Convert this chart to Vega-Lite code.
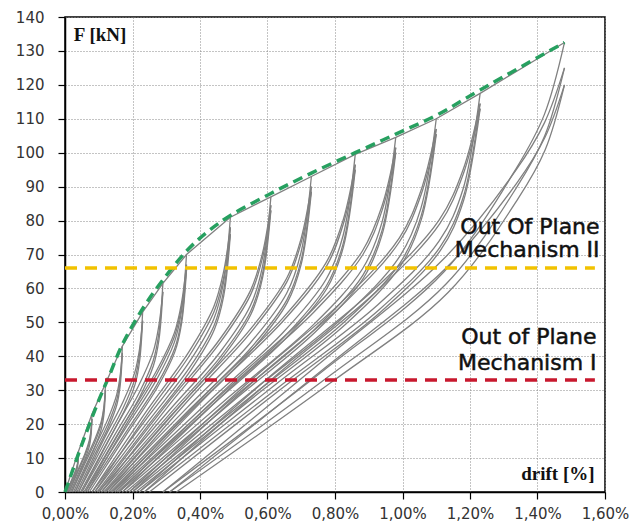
{
"$schema":"https://vega.github.io/schema/vega-lite/v6.json",
"width":540,"height":475,"autosize":"none",
"padding":{"left":65,"top":17,"right":28,"bottom":35},
"background":"white",
"config":{"view":{"stroke":"black","strokeWidth":1.5},
"axis":{"domainColor":"black","domainWidth":1.5,"tickColor":"black","tickSize":7,"tickWidth":1.2,"labelFont":"DejaVu Sans","labelFontSize":15,"labelColor":"#333","labelOverlap":false,"labelFlush":false,"labelBound":false,"grid":true,"gridDash":[1,2],"gridColor":"#888","gridWidth":1},
"axisY":{"labelOverlap":false}},
"datasets":{
"loops":[
{"c":1,"x":0.005,"y":0},{"c":1,"x":0.019,"y":3.2},{"c":1,"x":0.0295,"y":5.6},{"c":1,"x":0.0358,"y":7.6},{"c":1,"x":0.0383,"y":9.1},{"c":1,"x":0.04,"y":12},
{"c":2,"x":0.005,"y":0},{"c":2,"x":0.019,"y":3.4},{"c":2,"x":0.0295,"y":5.8},{"c":2,"x":0.0358,"y":7.7},{"c":2,"x":0.0383,"y":9.1},{"c":2,"x":0.04,"y":11},
{"c":3,"x":0.008,"y":0},{"c":3,"x":0.0208,"y":3},{"c":3,"x":0.0304,"y":5.2},{"c":3,"x":0.0362,"y":6.9},{"c":3,"x":0.0384,"y":8.4},{"c":3,"x":0.04,"y":11},
{"c":4,"x":0.012,"y":0},{"c":4,"x":0.0392,"y":6.2},{"c":4,"x":0.0596,"y":10.8},{"c":4,"x":0.0718,"y":14.5},{"c":4,"x":0.0766,"y":17.5},{"c":4,"x":0.08,"y":23},
{"c":5,"x":0.012,"y":0},{"c":5,"x":0.0392,"y":6.7},{"c":5,"x":0.0596,"y":11.4},{"c":5,"x":0.0718,"y":15.1},{"c":5,"x":0.0766,"y":17.8},{"c":5,"x":0.08,"y":21.5},
{"c":6,"x":0.016,"y":0},{"c":6,"x":0.0416,"y":5.8},{"c":6,"x":0.0608,"y":10.1},{"c":6,"x":0.0723,"y":13.5},{"c":6,"x":0.0768,"y":16.3},{"c":6,"x":0.08,"y":21.5},
{"c":7,"x":0.02,"y":0},{"c":7,"x":0.06,"y":8.6},{"c":7,"x":0.09,"y":15},{"c":7,"x":0.108,"y":20.2},{"c":7,"x":0.115,"y":24.3},{"c":7,"x":0.12,"y":32},
{"c":8,"x":0.02,"y":0},{"c":8,"x":0.06,"y":9.3},{"c":8,"x":0.09,"y":15.9},{"c":8,"x":0.108,"y":21},{"c":8,"x":0.115,"y":24.9},{"c":8,"x":0.12,"y":30},
{"c":9,"x":0.025,"y":0},{"c":9,"x":0.063,"y":8.1},{"c":9,"x":0.0915,"y":14.1},{"c":9,"x":0.1086,"y":18.9},{"c":9,"x":0.1153,"y":22.8},{"c":9,"x":0.12,"y":30},
{"c":10,"x":0.03,"y":0},{"c":10,"x":0.086,"y":11.6},{"c":10,"x":0.128,"y":20.2},{"c":10,"x":0.1532,"y":27.1},{"c":10,"x":0.163,"y":32.7},{"c":10,"x":0.17,"y":43},
{"c":11,"x":0.03,"y":0},{"c":11,"x":0.086,"y":12.7},{"c":11,"x":0.128,"y":21.7},{"c":11,"x":0.1532,"y":28.7},{"c":11,"x":0.163,"y":34},{"c":11,"x":0.17,"y":41},
{"c":12,"x":0.035,"y":0},{"c":12,"x":0.089,"y":11.1},{"c":12,"x":0.1295,"y":19.3},{"c":12,"x":0.1538,"y":25.8},{"c":12,"x":0.1633,"y":31.2},{"c":12,"x":0.17,"y":41},
{"c":13,"x":0.04,"y":0},{"c":13,"x":0.116,"y":14.3},{"c":13,"x":0.173,"y":24.9},{"c":13,"x":0.2072,"y":33.4},{"c":13,"x":0.2205,"y":40.3},{"c":13,"x":0.23,"y":53},
{"c":14,"x":0.04,"y":0},{"c":14,"x":0.116,"y":15.7},{"c":14,"x":0.173,"y":26.8},{"c":14,"x":0.2072,"y":35.4},{"c":14,"x":0.2205,"y":41.9},{"c":14,"x":0.23,"y":50.5},
{"c":15,"x":0.046,"y":0},{"c":15,"x":0.1196,"y":13.6},{"c":15,"x":0.1748,"y":23.7},{"c":15,"x":0.2079,"y":31.8},{"c":15,"x":0.2208,"y":38.4},{"c":15,"x":0.23,"y":50.5},
{"c":16,"x":0.05,"y":0},{"c":16,"x":0.146,"y":16.6},{"c":16,"x":0.218,"y":28.9},{"c":16,"x":0.2612,"y":38.7},{"c":16,"x":0.278,"y":46.7},{"c":16,"x":0.29,"y":61.5},
{"c":17,"x":0.05,"y":0},{"c":17,"x":0.146,"y":18.3},{"c":17,"x":0.218,"y":31.3},{"c":17,"x":0.2612,"y":41.3},{"c":17,"x":0.278,"y":49},{"c":17,"x":0.29,"y":59},
{"c":18,"x":0.056,"y":0},{"c":18,"x":0.1496,"y":15.9},{"c":18,"x":0.2198,"y":27.7},{"c":18,"x":0.2619,"y":37.2},{"c":18,"x":0.2783,"y":44.8},{"c":18,"x":0.29,"y":59},
{"c":19,"x":0.06,"y":0},{"c":19,"x":0.18,"y":18.9},{"c":19,"x":0.27,"y":32.9},{"c":19,"x":0.324,"y":44.1},{"c":19,"x":0.345,"y":53.2},{"c":19,"x":0.36,"y":70},
{"c":20,"x":0.06,"y":0},{"c":20,"x":0.18,"y":20.8},{"c":20,"x":0.27,"y":35.5},{"c":20,"x":0.324,"y":46.9},{"c":20,"x":0.345,"y":55.6},{"c":20,"x":0.36,"y":67},
{"c":21,"x":0.066,"y":0},{"c":21,"x":0.1836,"y":18.1},{"c":21,"x":0.2718,"y":31.5},{"c":21,"x":0.3247,"y":42.2},{"c":21,"x":0.3453,"y":50.9},{"c":21,"x":0.36,"y":67},
{"c":22,"x":0.066,"y":0},{"c":22,"x":0.1836,"y":20.3},{"c":22,"x":0.2718,"y":34.7},{"c":22,"x":0.3247,"y":45.9},{"c":22,"x":0.3453,"y":54.4},{"c":22,"x":0.36,"y":65.5},
{"c":23,"x":0.072,"y":0},{"c":23,"x":0.1872,"y":17.7},{"c":23,"x":0.2736,"y":30.8},{"c":23,"x":0.3254,"y":41.3},{"c":23,"x":0.3456,"y":49.8},{"c":23,"x":0.36,"y":65.5},
{"c":24,"x":0.08,"y":0},{"c":24,"x":0.244,"y":21.9},{"c":24,"x":0.367,"y":38.1},{"c":24,"x":0.4408,"y":51},{"c":24,"x":0.4695,"y":61.6},{"c":24,"x":0.49,"y":81},
{"c":25,"x":0.08,"y":0},{"c":25,"x":0.244,"y":24.2},{"c":25,"x":0.367,"y":41.3},{"c":25,"x":0.4408,"y":54.6},{"c":25,"x":0.4695,"y":64.7},{"c":25,"x":0.49,"y":78},
{"c":26,"x":0.088,"y":0},{"c":26,"x":0.2488,"y":21.1},{"c":26,"x":0.3694,"y":36.7},{"c":26,"x":0.4418,"y":49.1},{"c":26,"x":0.4699,"y":59.3},{"c":26,"x":0.49,"y":78},
{"c":27,"x":0.088,"y":0},{"c":27,"x":0.2488,"y":23.6},{"c":27,"x":0.3694,"y":40.3},{"c":27,"x":0.4418,"y":53.2},{"c":27,"x":0.4699,"y":63.1},{"c":27,"x":0.49,"y":76},
{"c":28,"x":0.095,"y":0},{"c":28,"x":0.253,"y":20.5},{"c":28,"x":0.3715,"y":35.7},{"c":28,"x":0.4426,"y":47.9},{"c":28,"x":0.4703,"y":57.8},{"c":28,"x":0.49,"y":76},
{"c":29,"x":0.1,"y":0},{"c":29,"x":0.304,"y":23.5},{"c":29,"x":0.457,"y":40.9},{"c":29,"x":0.5488,"y":54.8},{"c":29,"x":0.5845,"y":66.1},{"c":29,"x":0.61,"y":87},
{"c":30,"x":0.1,"y":0},{"c":30,"x":0.304,"y":26.2},{"c":30,"x":0.457,"y":44.8},{"c":30,"x":0.5488,"y":59.2},{"c":30,"x":0.5845,"y":70.1},{"c":30,"x":0.61,"y":84.5},
{"c":31,"x":0.108,"y":0},{"c":31,"x":0.3088,"y":22.8},{"c":31,"x":0.4594,"y":39.7},{"c":31,"x":0.5498,"y":53.2},{"c":31,"x":0.5849,"y":64.2},{"c":31,"x":0.61,"y":84.5},
{"c":32,"x":0.108,"y":0},{"c":32,"x":0.3088,"y":25.7},{"c":32,"x":0.4594,"y":44},{"c":32,"x":0.5498,"y":58.1},{"c":32,"x":0.5849,"y":68.9},{"c":32,"x":0.61,"y":83},
{"c":33,"x":0.115,"y":0},{"c":33,"x":0.313,"y":22.4},{"c":33,"x":0.4615,"y":39},{"c":33,"x":0.5506,"y":52.3},{"c":33,"x":0.5853,"y":63.1},{"c":33,"x":0.61,"y":83},
{"c":34,"x":0.12,"y":0},{"c":34,"x":0.364,"y":25.1},{"c":34,"x":0.547,"y":43.7},{"c":34,"x":0.6568,"y":58.6},{"c":34,"x":0.6995,"y":70.7},{"c":34,"x":0.73,"y":93},
{"c":35,"x":0.12,"y":0},{"c":35,"x":0.364,"y":27.9},{"c":35,"x":0.547,"y":47.7},{"c":35,"x":0.6568,"y":63},{"c":35,"x":0.6995,"y":74.7},{"c":35,"x":0.73,"y":90},
{"c":36,"x":0.128,"y":0},{"c":36,"x":0.3688,"y":24.3},{"c":36,"x":0.5494,"y":42.3},{"c":36,"x":0.6578,"y":56.7},{"c":36,"x":0.6999,"y":68.4},{"c":36,"x":0.73,"y":90},
{"c":37,"x":0.128,"y":0},{"c":37,"x":0.3688,"y":27.4},{"c":37,"x":0.5494,"y":46.9},{"c":37,"x":0.6578,"y":62},{"c":37,"x":0.6999,"y":73.5},{"c":37,"x":0.73,"y":88.5},
{"c":38,"x":0.135,"y":0},{"c":38,"x":0.373,"y":23.9},{"c":38,"x":0.5515,"y":41.6},{"c":38,"x":0.6586,"y":55.8},{"c":38,"x":0.7003,"y":67.3},{"c":38,"x":0.73,"y":88.5},
{"c":39,"x":0.14,"y":0},{"c":39,"x":0.428,"y":26.9},{"c":39,"x":0.644,"y":46.8},{"c":39,"x":0.7736,"y":62.7},{"c":39,"x":0.824,"y":75.6},{"c":39,"x":0.86,"y":99.5},
{"c":40,"x":0.14,"y":0},{"c":40,"x":0.428,"y":29.9},{"c":40,"x":0.644,"y":51.1},{"c":40,"x":0.7736,"y":67.6},{"c":40,"x":0.824,"y":80.1},{"c":40,"x":0.86,"y":96.5},
{"c":41,"x":0.148,"y":0},{"c":41,"x":0.4328,"y":26.1},{"c":41,"x":0.6464,"y":45.4},{"c":41,"x":0.7746,"y":60.8},{"c":41,"x":0.8244,"y":73.3},{"c":41,"x":0.86,"y":96.5},
{"c":42,"x":0.148,"y":0},{"c":42,"x":0.4328,"y":29.5},{"c":42,"x":0.6464,"y":50.4},{"c":42,"x":0.7746,"y":66.5},{"c":42,"x":0.8244,"y":78.9},{"c":42,"x":0.86,"y":95},
{"c":43,"x":0.155,"y":0},{"c":43,"x":0.437,"y":25.7},{"c":43,"x":0.6485,"y":44.7},{"c":43,"x":0.7754,"y":59.9},{"c":43,"x":0.8248,"y":72.2},{"c":43,"x":0.86,"y":95},
{"c":44,"x":0.16,"y":0},{"c":44,"x":0.488,"y":28.2},{"c":44,"x":0.734,"y":49.1},{"c":44,"x":0.8816,"y":65.8},{"c":44,"x":0.939,"y":79.4},{"c":44,"x":0.98,"y":104.5},
{"c":45,"x":0.16,"y":0},{"c":45,"x":0.488,"y":31.5},{"c":45,"x":0.734,"y":53.8},{"c":45,"x":0.8816,"y":71.1},{"c":45,"x":0.939,"y":84.2},{"c":45,"x":0.98,"y":101.5},
{"c":46,"x":0.17,"y":0},{"c":46,"x":0.494,"y":27.4},{"c":46,"x":0.737,"y":47.7},{"c":46,"x":0.8828,"y":63.9},{"c":46,"x":0.9395,"y":77.1},{"c":46,"x":0.98,"y":101.5},
{"c":47,"x":0.17,"y":0},{"c":47,"x":0.494,"y":31},{"c":47,"x":0.737,"y":53},{"c":47,"x":0.8828,"y":70},{"c":47,"x":0.9395,"y":83},{"c":47,"x":0.98,"y":100},
{"c":48,"x":0.18,"y":0},{"c":48,"x":0.5,"y":27},{"c":48,"x":0.74,"y":47},{"c":48,"x":0.884,"y":63},{"c":48,"x":0.94,"y":76},{"c":48,"x":0.98,"y":100},
{"c":49,"x":0.19,"y":0},{"c":49,"x":0.554,"y":29.7},{"c":49,"x":0.827,"y":51.7},{"c":49,"x":0.9908,"y":69.3},{"c":49,"x":1.0545,"y":83.6},{"c":49,"x":1.1,"y":110},
{"c":50,"x":0.19,"y":0},{"c":50,"x":0.554,"y":33.2},{"c":50,"x":0.827,"y":56.7},{"c":50,"x":0.9908,"y":74.9},{"c":50,"x":1.0545,"y":88.8},{"c":50,"x":1.1,"y":107},
{"c":51,"x":0.2,"y":0},{"c":51,"x":0.56,"y":28.9},{"c":51,"x":0.83,"y":50.3},{"c":51,"x":0.992,"y":67.4},{"c":51,"x":1.055,"y":81.3},{"c":51,"x":1.1,"y":107},
{"c":52,"x":0.2,"y":0},{"c":52,"x":0.56,"y":32.7},{"c":52,"x":0.83,"y":55.9},{"c":52,"x":0.992,"y":73.9},{"c":52,"x":1.055,"y":87.6},{"c":52,"x":1.1,"y":105.5},
{"c":53,"x":0.21,"y":0},{"c":53,"x":0.566,"y":28.5},{"c":53,"x":0.833,"y":49.6},{"c":53,"x":0.9932,"y":66.5},{"c":53,"x":1.0555,"y":80.2},{"c":53,"x":1.1,"y":105.5},
{"c":54,"x":0.22,"y":0},{"c":54,"x":0.624,"y":31.7},{"c":54,"x":0.927,"y":55.2},{"c":54,"x":1.1088,"y":74},{"c":54,"x":1.1795,"y":89.3},{"c":54,"x":1.23,"y":117.5},
{"c":55,"x":0.22,"y":0},{"c":55,"x":0.624,"y":35.5},{"c":55,"x":0.927,"y":60.7},{"c":55,"x":1.1088,"y":80.2},{"c":55,"x":1.1795,"y":95},{"c":55,"x":1.23,"y":114.5},
{"c":56,"x":0.235,"y":0},{"c":56,"x":0.633,"y":30.9},{"c":56,"x":0.9315,"y":53.8},{"c":56,"x":1.1106,"y":72.1},{"c":56,"x":1.1803,"y":87},{"c":56,"x":1.23,"y":114.5},
{"c":57,"x":0.235,"y":0},{"c":57,"x":0.633,"y":35},{"c":57,"x":0.9315,"y":59.9},{"c":57,"x":1.1106,"y":79.1},{"c":57,"x":1.1803,"y":93.8},{"c":57,"x":1.23,"y":113},
{"c":58,"x":0.25,"y":0},{"c":58,"x":0.642,"y":30.5},{"c":58,"x":0.936,"y":53.1},{"c":58,"x":1.1124,"y":71.2},{"c":58,"x":1.181,"y":85.9},{"c":58,"x":1.23,"y":113},
{"c":59,"x":0.29,"y":0},{"c":59,"x":0.766,"y":35.8},{"c":59,"x":1.123,"y":64.9},{"c":59,"x":1.3372,"y":95.4},{"c":59,"x":1.4205,"y":111.3},{"c":59,"x":1.48,"y":132.5},
{"c":60,"x":0.29,"y":0},{"c":60,"x":0.766,"y":38.8},{"c":60,"x":1.123,"y":68.8},{"c":60,"x":1.3372,"y":95},{"c":60,"x":1.4205,"y":108.8},{"c":60,"x":1.48,"y":125},
{"c":61,"x":0.31,"y":0},{"c":61,"x":0.778,"y":33.8},{"c":61,"x":1.129,"y":61.3},{"c":61,"x":1.3396,"y":90},{"c":61,"x":1.4215,"y":105},{"c":61,"x":1.48,"y":125},
{"c":62,"x":0.31,"y":0},{"c":62,"x":0.778,"y":37.2},{"c":62,"x":1.129,"y":66},{"c":62,"x":1.3396,"y":91.2},{"c":62,"x":1.4215,"y":104.4},{"c":62,"x":1.48,"y":120},
{"c":63,"x":0.33,"y":0},{"c":63,"x":0.79,"y":32.4},{"c":63,"x":1.135,"y":58.8},{"c":63,"x":1.342,"y":86.4},{"c":63,"x":1.4225,"y":100.8},{"c":63,"x":1.48,"y":120}
],
"peaks":[
{"x":0,"y":0},{"x":0.04,"y":12},{"x":0.08,"y":23},{"x":0.12,"y":32},{"x":0.17,"y":43},{"x":0.23,"y":53},{"x":0.29,"y":61.5},{"x":0.36,"y":70},{"x":0.49,"y":81},{"x":0.61,"y":87},{"x":0.73,"y":93},{"x":0.86,"y":99.5},{"x":0.98,"y":104.5},{"x":1.1,"y":110},{"x":1.23,"y":117.5},{"x":1.48,"y":132.5}
],
"envelope":[
{"x":0,"y":0},{"x":0.05,"y":14},{"x":0.1,"y":27},{"x":0.13,"y":34},{"x":0.17,"y":43.5},{"x":0.23,"y":54},{"x":0.29,"y":62.5},{"x":0.36,"y":71},{"x":0.42,"y":76.5},{"x":0.49,"y":81.5},{"x":0.61,"y":88},{"x":0.73,"y":94},{"x":0.86,"y":100},{"x":0.98,"y":105.5},{"x":1.1,"y":111},{"x":1.23,"y":118.5},{"x":1.48,"y":132.5}
]
},
"encoding":{
"x":{"field":"x","type":"quantitative","title":null,"scale":{"domain":[0,1.6],"nice":false},
"axis":{"values":[0,0.2,0.4,0.6,0.8,1,1.2,1.4,1.6],"labelPadding":7,"labelOverlap":false,"labelExpr":"replace(format(datum.value,'.2f'),'.',',') + '%'"}},
"y":{"field":"y","type":"quantitative","title":null,"scale":{"domain":[0,140],"nice":false},
"axis":{"values":[0,10,20,30,40,50,60,70,80,90,100,110,120,130,140],"tickCount":15,"labelPadding":14,"labelOverlap":false,"labelFlush":false,"labelBound":false,"labelExpr":"format(datum.value,'d')"}}
},
"layer":[
{"data":{"name":"loops"},
"mark":{"type":"line","interpolate":"catmull-rom","color":"#808080","strokeWidth":1.3},
"encoding":{"detail":{"field":"c","type":"nominal"}}},
{"data":{"name":"peaks"},
"mark":{"type":"line","color":"#808080","strokeWidth":1.3},
"encoding":{}},
{"data":{"name":"envelope"},
"mark":{"type":"line","interpolate":"catmull-rom","color":"#27a060","strokeWidth":3.5,"strokeDash":[10,6]},
"encoding":{}},
{"data":{"values":[{"x":0,"x2":1.57,"y":33}]},
"mark":{"type":"rule","color":"#c8182e","strokeWidth":3.5,"strokeDash":[12,8]},
"encoding":{"x2":{"field":"x2"}}},
{"data":{"values":[{"x":0,"x2":1.57,"y":66}]},
"mark":{"type":"rule","color":"#f2c200","strokeWidth":3.5,"strokeDash":[12,8]},
"encoding":{"x2":{"field":"x2"}}},
{"data":{"values":[{"x":0.026,"y":134.7,"t":"F [kN]"}]},
"mark":{"type":"text","align":"left","baseline":"middle","font":"Liberation Serif","fontWeight":"bold","fontSize":19,"color":"#111"},
"encoding":{"text":{"field":"t"}}},
{"data":{"values":[{"x":1.569,"y":5.3,"t":"drift [%]"}]},
"mark":{"type":"text","align":"right","baseline":"middle","font":"Liberation Serif","fontWeight":"bold","fontSize":19,"color":"#111"},
"encoding":{"text":{"field":"t"}}},
{"data":{"values":[{"x":1.584,"y":78.1,"t":"Out Of Plane"},{"x":1.584,"y":71.3,"t":"Mechanism II"},{"x":1.575,"y":45.8,"t":"Out of Plane"},{"x":1.575,"y":37.9,"t":"Mechanism I"}]},
"mark":{"type":"text","align":"right","baseline":"middle","font":"DejaVu Sans","fontSize":22,"color":"#111","stroke":"#111","strokeWidth":0.5},
"encoding":{"text":{"field":"t"}}}
]
}
